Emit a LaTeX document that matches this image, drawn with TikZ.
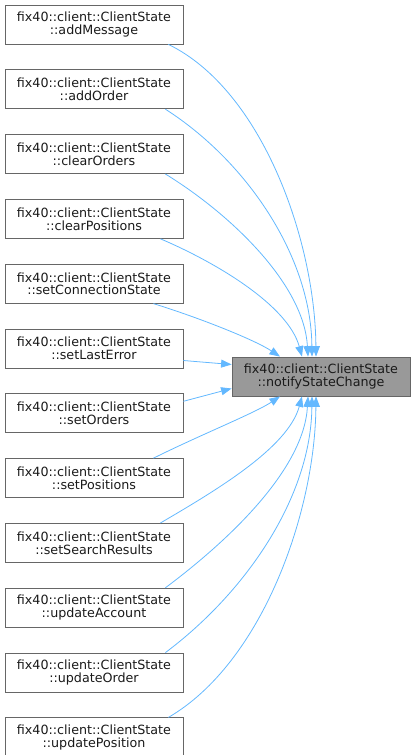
\documentclass[tikz,border=0pt]{standalone}
\usepackage{fontspec}
\setsansfont{DejaVu Sans}
\usepackage{tikz}
\usetikzlibrary{arrows.meta, positioning}
\definecolor{cgEdge}{HTML}{63B8FF}
\definecolor{cgLine}{HTML}{666666}
\definecolor{cgFill}{HTML}{999999}
\definecolor{cgText}{HTML}{1A1A1A}

\begin{document}
\begin{tikzpicture}[
  x=1pt, y=-1pt,
  font=\sffamily\fontsize{12.7}{12.8}\selectfont, node distance=25pt,
  fn/.style={draw=cgLine, fill=white, line width=0.8pt, minimum width=178pt,
             minimum height=39pt, inner sep=0pt, align=center, text=cgText},
  hl/.style={fn, fill=cgFill},
  edge/.style={-{Triangle[length=10.5pt, width=8pt]}, draw=cgEdge, line width=0.8pt},
]
\useasboundingbox (0,0) rectangle (416,755);

% callers
\node[fn] (addMsg) at (94,24.5) {fix40::client::ClientState\\::addMessage};
\node[fn, below=of addMsg] (addOrd) {fix40::client::ClientState\\::addOrder};
\node[fn, below=of addOrd] (clrOrd) {fix40::client::ClientState\\::clearOrders};
\node[fn, below=of clrOrd] (clrPos) {fix40::client::ClientState\\::clearPositions};
\node[fn, below=of clrPos] (setConn) {fix40::client::ClientState\\::setConnectionState};
\node[fn, below=of setConn] (setErr) {fix40::client::ClientState\\::setLastError};
\node[fn, below=of setErr] (setOrd) {fix40::client::ClientState\\::setOrders};
\node[fn, below=of setOrd] (setPos) {fix40::client::ClientState\\::setPositions};
\node[fn, below=of setPos] (setSrch) {fix40::client::ClientState\\::setSearchResults};
\node[fn, below=of setSrch] (updAcc) {fix40::client::ClientState\\::updateAccount};
\node[fn, below=of updAcc] (updOrd) {fix40::client::ClientState\\::updateOrder};
\node[fn, below=of updOrd] (updPos) {fix40::client::ClientState\\::updatePosition};

% callee
\node[hl] (notify) at (321,376.5) {fix40::client::ClientState\\::notifyStateChange};

% upper half
\draw[edge] ([xshift=-15pt]addMsg.south east) .. controls (262,90) and (315,240) .. ([xshift=-5pt]notify.north);
\draw[edge] ([xshift=-18pt]addOrd.south east) .. controls (245,160) and (311,255) .. ([xshift=-9pt]notify.north);
\draw[edge] ([xshift=-18pt]clrOrd.south east) .. controls (232,215) and (304,285) .. ([xshift=-13pt]notify.north);
\draw[edge] ([xshift=-23pt]clrPos.south east) .. controls (215,262) and (288,305) .. ([xshift=-19pt]notify.north);
\draw[edge] ([xshift=-30pt]setConn.south east) .. controls (200,318) and (255,340) .. ([xshift=-41pt]notify.north);
\draw[edge] ([yshift=-12pt]setErr.east) -- ([yshift=12pt]notify.west);

% lower half
\draw[edge] ([yshift=12pt]setOrd.east) -- ([yshift=-12pt]notify.west);
\draw[edge] ([xshift=-30pt]setPos.north east) .. controls (200,435) and (255,413) .. ([xshift=-41pt]notify.south);
\draw[edge] ([xshift=-23pt]setSrch.north east) .. controls (215,491) and (288,448) .. ([xshift=-19pt]notify.south);
\draw[edge] ([xshift=-18pt]updAcc.north east) .. controls (232,538) and (304,468) .. ([xshift=-13pt]notify.south);
\draw[edge] ([xshift=-18pt]updOrd.north east) .. controls (245,593) and (311,498) .. ([xshift=-9pt]notify.south);
\draw[edge] ([xshift=-15pt]updPos.north east) .. controls (262,663) and (315,513) .. ([xshift=-5pt]notify.south);
\end{tikzpicture}
\end{document}
